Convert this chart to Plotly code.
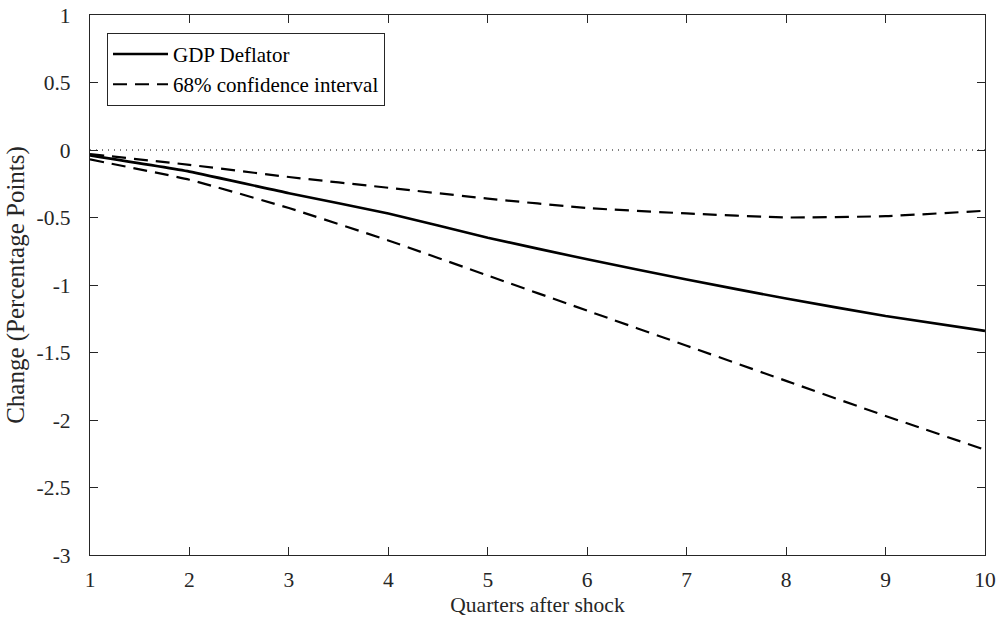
import plotly.graph_objects as go

quarters = [1, 2, 3, 4, 5, 6, 7, 8, 9, 10]
gdp_deflator = [-0.04, -0.16, -0.32, -0.47, -0.65, -0.81, -0.96, -1.10, -1.23, -1.34]
ci_upper = [-0.03, -0.11, -0.20, -0.28, -0.36, -0.43, -0.47, -0.50, -0.49, -0.45]
ci_lower = [-0.07, -0.22, -0.43, -0.67, -0.93, -1.19, -1.45, -1.71, -1.97, -2.22]
zero_line = [0] * len(quarters)

x_ticks = [1, 2, 3, 4, 5, 6, 7, 8, 9, 10]
y_ticks = [-3, -2.5, -2, -1.5, -1, -0.5, 0, 0.5, 1]
y_tick_labels = ["-3", "-2.5", "-2", "-1.5", "-1", "-0.5", "0", "0.5", "1"]

FONT = "Liberation Serif"
AX = "#262626"

fig = go.Figure()
fig.add_trace(go.Scatter(x=quarters, y=zero_line, mode="lines",
                         line=dict(color="black", width=1, dash="1px,5px"),
                         showlegend=False, hoverinfo="skip"))
fig.add_trace(go.Scatter(x=quarters, y=gdp_deflator, mode="lines", name="GDP Deflator",
                         line=dict(color="black", width=2.6, shape="spline", smoothing=0.4)))
fig.add_trace(go.Scatter(x=quarters, y=ci_upper, mode="lines", name="68% confidence interval",
                         line=dict(color="black", width=2.2, dash="14px,8px", shape="spline", smoothing=0.4)))
fig.add_trace(go.Scatter(x=quarters, y=ci_lower, mode="lines", showlegend=False,
                         line=dict(color="black", width=2.2, dash="14px,8px", shape="spline", smoothing=0.4)))

fig.update_layout(
    width=1003, height=626,
    margin=dict(l=90, r=18, t=15, b=71),
    paper_bgcolor="white", plot_bgcolor="white",
    font=dict(family=FONT, size=21, color=AX),
    showlegend=True,
    legend=dict(x=0.019, y=0.967, xanchor="left", yanchor="top",
                bgcolor="white", bordercolor=AX, borderwidth=1,
                font=dict(family=FONT, size=21, color="black"),
                tracegroupgap=0, itemwidth=55),
    xaxis=dict(range=[1, 10], tickvals=x_ticks, ticks="inside", ticklen=8,
               tickcolor=AX, showline=True, linecolor=AX, linewidth=1.2,
               mirror="allticks", showgrid=False, zeroline=False,
               automargin=False, ticklabelstandoff=5,
               title=dict(text="Quarters after shock", standoff=6,
                          font=dict(family=FONT, size=21.5, color=AX)),
               tickfont=dict(family=FONT, size=21.5, color=AX)),
    yaxis=dict(range=[-3, 1], tickvals=y_ticks, ticktext=y_tick_labels,
               ticks="inside", ticklen=8, tickcolor=AX, showline=True,
               linecolor=AX, linewidth=1.2, mirror="allticks", showgrid=False,
               zeroline=False, automargin=False, ticklabelstandoff=14,
               title=dict(text="Change (Percentage Points)", standoff=4,
                          font=dict(family=FONT, size=25, color=AX)),
               tickfont=dict(family=FONT, size=21.5, color=AX)),
)

fig.write_html("out.html")
